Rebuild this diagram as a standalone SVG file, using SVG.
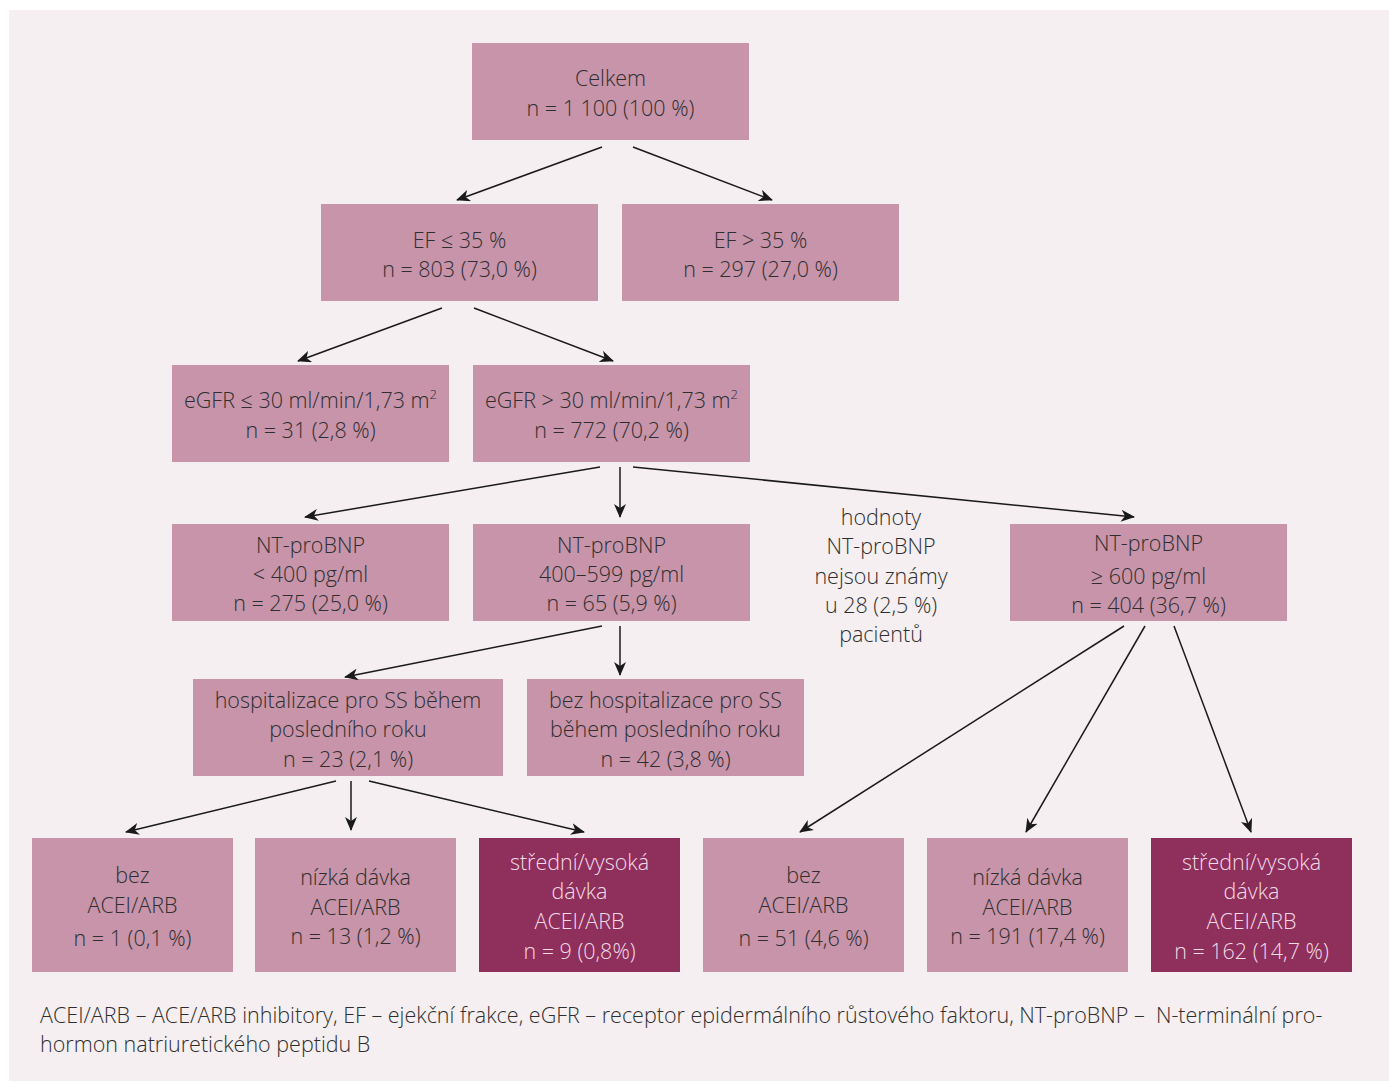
<svg xmlns="http://www.w3.org/2000/svg" width="1389" height="1083" viewBox="0 0 1389 1083">
<defs>
<style>
.bg{fill:#f5eff1}
.box{fill:#c794aa}
.dark{fill:#8e2f5c}
text{font-family:"Open Sans","Noto Sans","Liberation Sans",sans-serif;font-weight:300;font-size:21.5px;fill:#2e2e2e;text-anchor:middle}
.lt{fill:#f3dbe6}
.foot{font-size:21.5px;text-anchor:start}
.sup{font-size:13px}
.conn line{stroke:#1a1a1a;stroke-width:1.5;marker-end:url(#ah)}
</style>
<marker id="ah" markerUnits="userSpaceOnUse" markerWidth="14" markerHeight="12" viewBox="0 0 14 12" refX="13" refY="6" orient="auto">
<path d="M0,0 L14,6 L0,12 L4,6 Z" fill="#1a1a1a"/>
</marker>
</defs>
<rect class="bg" x="9" y="10" width="1380" height="1071"/>

<g id="n-celkem"><rect class="box" x="472" y="43" width="277" height="97"/>
<text x="610.5" y="86">Celkem</text><text x="610.5" y="116">n = 1 100 (100 %)</text></g>

<g id="n-ef-low"><rect class="box" x="321" y="204" width="277" height="97"/>
<text x="459.5" y="248">EF ≤ 35 %</text><text x="459.5" y="277">n = 803 (73,0 %)</text></g>

<g id="n-ef-high"><rect class="box" x="622" y="204" width="277" height="97"/>
<text x="760.5" y="248">EF &gt; 35 %</text><text x="760.5" y="277">n = 297 (27,0 %)</text></g>

<g id="n-egfr-low"><rect class="box" x="172" y="365" width="277" height="97"/>
<text x="310.5" y="408">eGFR ≤ 30 ml/min/1,73 m<tspan class="sup" dy="-9">2</tspan></text><text x="310.5" y="438">n = 31 (2,8 %)</text></g>

<g id="n-egfr-high"><rect class="box" x="473" y="365" width="277" height="97"/>
<text x="611.5" y="408">eGFR &gt; 30 ml/min/1,73 m<tspan class="sup" dy="-9">2</tspan></text><text x="611.5" y="438">n = 772 (70,2 %)</text></g>

<g id="n-nt-low"><rect class="box" x="172" y="524" width="277" height="97"/>
<text x="310.5" y="553">NT-proBNP</text><text x="310.5" y="582">&lt; 400 pg/ml</text><text x="310.5" y="611">n = 275 (25,0 %)</text></g>

<g id="n-nt-mid"><rect class="box" x="473" y="524" width="277" height="97"/>
<text x="611.5" y="553">NT-proBNP</text><text x="611.5" y="582">400–599 pg/ml</text><text x="611.5" y="611">n = 65 (5,9 %)</text></g>

<g id="n-nt-unknown">
<text x="881" y="525">hodnoty</text><text x="881" y="554">NT-proBNP</text><text x="881" y="584">nejsou známy</text><text x="881" y="613">u 28 (2,5 %)</text><text x="881" y="642">pacientů</text></g>

<g id="n-nt-high"><rect class="box" x="1010" y="524" width="277" height="97"/>
<text x="1148.5" y="551">NT-proBNP</text><text x="1148.5" y="584">≥ 600 pg/ml</text><text x="1148.5" y="613">n = 404 (36,7 %)</text></g>

<g id="n-hosp"><rect class="box" x="193" y="679" width="310" height="97"/>
<text x="348" y="708">hospitalizace pro SS během</text><text x="348" y="737">posledního roku</text><text x="348" y="767">n = 23 (2,1 %)</text></g>

<g id="n-nohosp"><rect class="box" x="527" y="679" width="277" height="97"/>
<text x="665.5" y="708">bez hospitalizace pro SS</text><text x="665.5" y="737">během posledního roku</text><text x="665.5" y="767">n = 42 (3,8 %)</text></g>

<g id="n-l-bez"><rect class="box" x="32" y="838" width="201" height="134"/>
<text x="132.5" y="883">bez</text><text x="132.5" y="913">ACEI/ARB</text><text x="132.5" y="946">n = 1 (0,1 %)</text></g>

<g id="n-l-nizka"><rect class="box" x="255" y="838" width="201" height="134"/>
<text x="355.5" y="885">nízká dávka</text><text x="355.5" y="915">ACEI/ARB</text><text x="355.5" y="944">n = 13 (1,2 %)</text></g>

<g id="n-l-stredni"><rect class="dark" x="479" y="838" width="201" height="134"/>
<text class="lt" x="579.5" y="870">střední/vysoká</text><text class="lt" x="579.5" y="899">dávka</text><text class="lt" x="579.5" y="929">ACEI/ARB</text><text class="lt" x="579.5" y="959">n = 9 (0,8%)</text></g>

<g id="n-r-bez"><rect class="box" x="703" y="838" width="201" height="134"/>
<text x="803.5" y="883">bez</text><text x="803.5" y="913">ACEI/ARB</text><text x="803.5" y="946">n = 51 (4,6 %)</text></g>

<g id="n-r-nizka"><rect class="box" x="927" y="838" width="201" height="134"/>
<text x="1027.5" y="885">nízká dávka</text><text x="1027.5" y="915">ACEI/ARB</text><text x="1027.5" y="944">n = 191 (17,4 %)</text></g>

<g id="n-r-stredni"><rect class="dark" x="1151" y="838" width="201" height="134"/>
<text class="lt" x="1251.5" y="870">střední/vysoká</text><text class="lt" x="1251.5" y="899">dávka</text><text class="lt" x="1251.5" y="929">ACEI/ARB</text><text class="lt" x="1251.5" y="959">n = 162 (14,7 %)</text></g>

<g id="connectors" class="conn">
<line x1="602" y1="147" x2="457" y2="200"/>
<line x1="633" y1="147" x2="772" y2="200"/>
<line x1="442" y1="308" x2="298" y2="361"/>
<line x1="474" y1="308" x2="613" y2="361"/>
<line x1="600" y1="467" x2="305" y2="517"/>
<line x1="620" y1="467" x2="620" y2="517"/>
<line x1="633" y1="467" x2="1134" y2="517"/>
<line x1="602" y1="626" x2="345" y2="677"/>
<line x1="620" y1="626" x2="620" y2="675"/>
<line x1="336" y1="781" x2="126" y2="832"/>
<line x1="351" y1="781" x2="351" y2="830"/>
<line x1="369" y1="781" x2="584" y2="832"/>
<line x1="1124" y1="626" x2="800" y2="832"/>
<line x1="1145" y1="626" x2="1026" y2="832"/>
<line x1="1174" y1="626" x2="1251" y2="832"/>
</g>

<g id="legend">
<text class="foot" x="40" y="1023">ACEI/ARB – ACE/ARB inhibitory, EF – ejekční frakce, eGFR – receptor epidermálního růstového faktoru, NT-proBNP – &#160;N-terminální pro-</text>
<text class="foot" x="40" y="1052">hormon natriuretického peptidu B</text>
</g>
</svg>
